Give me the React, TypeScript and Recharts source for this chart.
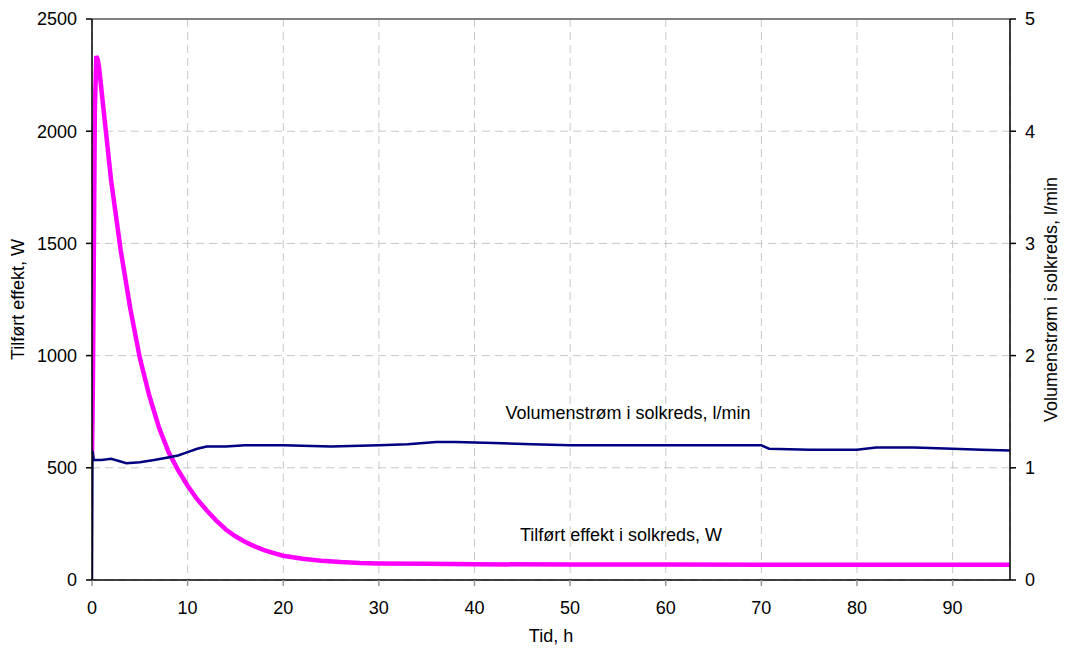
import { LineChart, Line, XAxis, YAxis, CartesianGrid, ReferenceLine } from 'recharts'

// Tilført effekt i solkreds, W (venstre akse)
const effektTid = [0, 0.1, 0.3, 0.45, 0.6, 0.75, 0.9, 1.3, 2, 3, 4, 5, 6, 7, 8, 9, 10, 11, 12, 13, 14, 15, 16, 17, 18, 19, 20, 22, 24, 26, 28, 30, 35, 40, 50, 60, 70, 80, 90, 96]
const effektW = [550, 900, 2100, 2335, 2320, 2280, 2220, 2060, 1780, 1470, 1210, 990, 820, 680, 570, 490, 420, 360, 310, 265, 225, 195, 170, 150, 133, 120, 108, 95, 86, 80, 76, 74, 72, 70, 69, 69, 68, 68, 68, 68]

// Volumenstrøm i solkreds, l/min (højre akse)
const flowTid = [0, 0.05, 0.2, 1, 2, 2.8, 3.6, 5, 6.5, 7.8, 9, 10, 11, 12, 14, 16, 20, 25, 30, 33, 36, 38, 42, 46, 50, 55, 60, 65, 70, 70.8, 75, 80, 82, 86, 90, 93, 96]
const flowLmin = [0, 1.15, 1.07, 1.07, 1.08, 1.06, 1.04, 1.05, 1.07, 1.09, 1.11, 1.14, 1.17, 1.19, 1.19, 1.2, 1.2, 1.19, 1.2, 1.21, 1.23, 1.23, 1.22, 1.21, 1.2, 1.2, 1.2, 1.2, 1.2, 1.17, 1.16, 1.16, 1.18, 1.18, 1.17, 1.16, 1.155]

const xTicks = [0, 10, 20, 30, 40, 50, 60, 70, 80, 90]
const leftTicks = [0, 500, 1000, 1500, 2000, 2500]
const rightTicks = [0, 1, 2, 3, 4, 5]

const effektData = effektTid.map((t, i) => ({ t, w: effektW[i] }))
const flowData = flowTid.map((t, i) => ({ t, q: flowLmin[i] }))

const font = 'Liberation Sans, Arial, sans-serif'
const tickStyle = { fontSize: 18, fill: '#000', fontFamily: font }

export default function App() {
  return (
    <div style={{ position: 'absolute', left: 0, top: 0, width: 1065, height: 652, background: '#fff', fontFamily: font }}>
      <LineChart width={1065} height={652} margin={{ top: 19, right: 0, bottom: 0, left: 0 }}>
        <CartesianGrid yAxisId="left" stroke="#c8c8c8" strokeDasharray="8 5" />
        <XAxis
          type="number"
          dataKey="t"
          domain={[0, 96]}
          ticks={xTicks}
          allowDataOverflow
          height={72}
          stroke="#000"
          strokeWidth={1.5}
          tickLine={{ stroke: '#999' }}
          tickSize={6}
          tickMargin={15}
          tick={tickStyle}
          label={{ value: 'Tid, h', position: 'insideBottom', offset: 10, style: { ...tickStyle } }}
        />
        <YAxis
          yAxisId="left"
          domain={[0, 2500]}
          ticks={leftTicks}
          width={92}
          stroke="#000"
          strokeWidth={1.5}
          tickSize={6}
          tickMargin={9}
          tick={tickStyle}
          label={{ value: 'Tilført effekt, W', angle: -90, position: 'insideLeft', offset: 18, style: { ...tickStyle, textAnchor: 'middle' } }}
        />
        <YAxis
          yAxisId="right"
          orientation="right"
          domain={[0, 5]}
          ticks={rightTicks}
          width={55}
          stroke="#000"
          strokeWidth={1.5}
          tickSize={6}
          tickMargin={9}
          tick={tickStyle}
          label={{ value: 'Volumenstrøm i solkreds, l/min', angle: -90, position: 'insideRight', offset: 14, style: { ...tickStyle, textAnchor: 'middle' } }}
        />
        <ReferenceLine yAxisId="left" y={2500} stroke="#808080" strokeWidth={2} />
        <Line
          yAxisId="left"
          data={effektData}
          dataKey="w"
          type="linear"
          stroke="#ff00ff"
          strokeWidth={4.5}
          dot={false}
          isAnimationActive={false}
        />
        <Line
          yAxisId="right"
          data={flowData}
          dataKey="q"
          type="linear"
          stroke="#000080"
          strokeWidth={2.5}
          dot={false}
          isAnimationActive={false}
        />
      </LineChart>
      <div style={{ position: 'absolute', left: 628, top: 413, transform: 'translate(-50%, -50%)', fontSize: 18, whiteSpace: 'nowrap', color: '#000' }}>
        Volumenstrøm i solkreds, l/min
      </div>
      <div style={{ position: 'absolute', left: 621, top: 535, transform: 'translate(-50%, -50%)', fontSize: 18, whiteSpace: 'nowrap', color: '#000' }}>
        Tilført effekt i solkreds, W
      </div>
    </div>
  )
}
